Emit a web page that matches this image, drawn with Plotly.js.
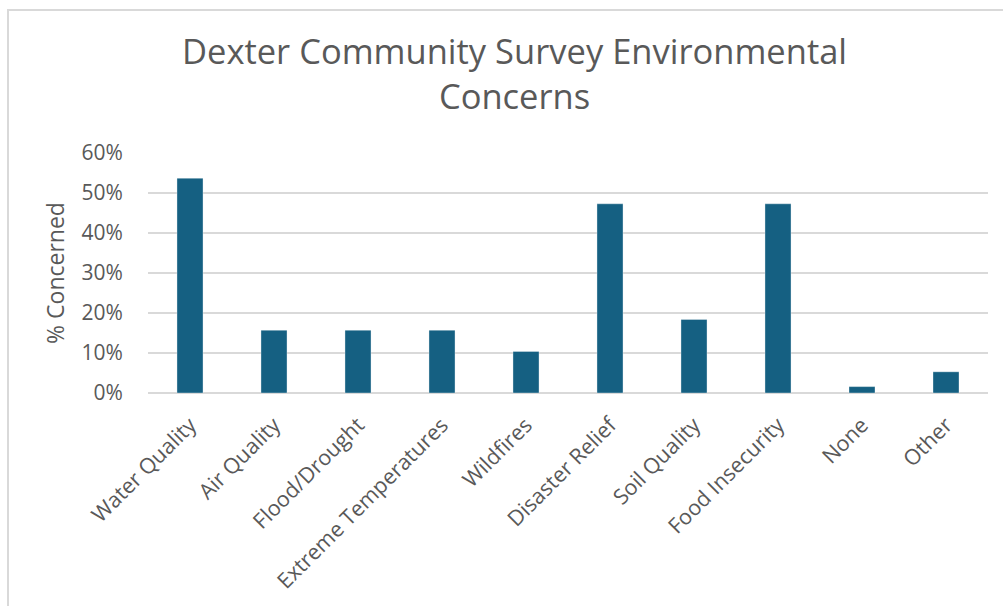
<!DOCTYPE html>
<html>
<head>
<meta charset="utf-8">
<script src="https://cdn.plot.ly/plotly-3.0.1.min.js"></script>
<style>
html,body{margin:0;padding:0;background:#fff;}
#wrap{position:relative;width:1003px;height:606px;overflow:hidden;}
#chart{position:absolute;left:0;top:0;width:1003px;height:606px;}
#frame{position:absolute;left:7px;top:9px;width:1100px;height:700px;border-left:2px solid #d9d9d9;border-top:2px solid #d9d9d9;pointer-events:none;}
</style>
</head>
<body>
<div id="wrap"><div id="chart"></div><div id="frame"></div></div>
<script>
const categories = ["Water Quality","Air Quality","Flood/Drought","Extreme Temperatures","Wildfires","Disaster Relief","Soil Quality","Food Insecurity","None","Other"];
const concerned = [0.537, 0.157, 0.157, 0.157, 0.104, 0.473, 0.184, 0.473, 0.016, 0.053];
const yTickVals = [0, 0.1, 0.2, 0.3, 0.4, 0.5, 0.6];
const yTickText = ["0%","10%","20%","30%","40%","50%","60%"];

const font = "Open Sans, Liberation Sans, Arial, sans-serif";
const textColor = "#595959";

Plotly.newPlot("chart", [{
  type: "bar",
  x: categories,
  y: concerned,
  marker: {color: "#156082", line: {color: "rgba(255,255,255,0.35)", width: 1}},
  hoverinfo: "x+y"
}], {
  width: 1003, height: 606,
  margin: {l: 148, r: 15, t: 153, b: 213},
  paper_bgcolor: "#fff", plot_bgcolor: "#fff",
  bargap: 0.69,
  showlegend: false,
  title: {
    text: "Dexter Community Survey Environmental<br>Concerns",
    font: {family: font, size: 34.5, color: textColor},
    x: 0.513, xanchor: "center", y: 0.894, yanchor: "top"
  },
  xaxis: {
    type: "category",
    tickangle: -45,
    tickfont: {family: font, size: 21.5, color: textColor},
    ticks: "outside", ticklen: 10, tickcolor: "rgba(0,0,0,0)",
    showgrid: false, showline: false, zeroline: false,
    fixedrange: true
  },
  yaxis: {
    range: [0, 0.6],
    tickvals: yTickVals, ticktext: yTickText,
    tickfont: {family: font, size: 21, color: textColor},
    ticks: "outside", ticklen: 20, tickcolor: "rgba(0,0,0,0)",
    showgrid: true, gridcolor: "#d9d9d9", gridwidth: 1.5,
    zeroline: true, zerolinecolor: "#d9d9d9", zerolinewidth: 1.5,
    showline: false,
    title: {text: "% Concerned", font: {family: font, size: 23, color: textColor}, standoff: 10},
    fixedrange: true
  }
}, {displayModeBar: false, staticPlot: true});
</script>
</body>
</html>
